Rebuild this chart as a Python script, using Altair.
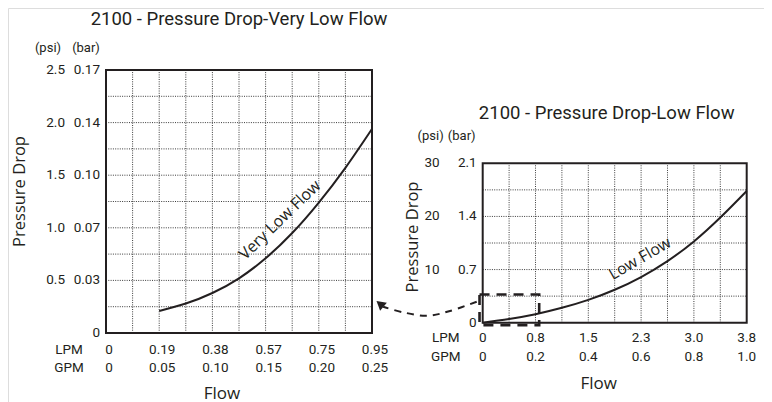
import altair as alt
import pandas as pd

# ---------------- Left panel: Very Low Flow ----------------
L_TITLE = "2100 - Pressure Drop-Very Low Flow"
L_GPM_TICKS = [0, 0.05, 0.10, 0.15, 0.20, 0.25]
L_GPM_LABELS = ["0", "0.05", "0.10", "0.15", "0.20", "0.25"]
L_LPM_LABELS = ["0", "0.19", "0.38", "0.57", "0.75", "0.95"]
L_PSI_TICKS = [0.5, 1.0, 1.5, 2.0, 2.5]
L_PSI_LABELS = ["0.5", "1.0", "1.5", "2.0", "2.5"]
L_BAR_LABELS = ["0.03", "0.07", "0.10", "0.14", "0.17"]
L_GRID_X = [0.025, 0.05, 0.075, 0.10, 0.125, 0.15, 0.175, 0.20, 0.225]
L_GRID_Y = [0.25, 0.5, 0.75, 1.0, 1.25, 1.5, 1.75, 2.0, 2.25]
L_CURVE_GPM = [0.05, 0.075, 0.10, 0.125, 0.15, 0.175, 0.20, 0.225, 0.25]
L_CURVE_PSI = [0.21, 0.28, 0.38, 0.52, 0.71, 0.95, 1.24, 1.57, 1.94]
L_CURVE_LABEL = "Very Low Flow"
L_LABEL_AT = [0.1635, 1.074]

# ---------------- Right panel: Low Flow ----------------
R_TITLE = "2100 - Pressure Drop-Low Flow"
R_GPM_TICKS = [0, 0.2, 0.4, 0.6, 0.8, 1.0]
R_GPM_LABELS = ["0", "0.2", "0.4", "0.6", "0.8", "1.0"]
R_LPM_LABELS = ["0", "0.8", "1.5", "2.3", "3.0", "3.8"]
R_PSI_TICKS = [10, 20, 30]
R_PSI_LABELS = ["10", "20", "30"]
R_BAR_LABELS = ["0.7", "1.4", "2.1"]
R_GRID_X = [0.1, 0.2, 0.3, 0.4, 0.5, 0.6, 0.7, 0.8, 0.9]
R_GRID_Y = [5, 10, 15, 20, 25]
R_CURVE_GPM = [0, 0.1, 0.2, 0.3, 0.4, 0.5, 0.6, 0.7, 0.8, 0.9, 1.0]
R_CURVE_PSI = [0, 0.7, 1.6, 2.8, 4.3, 6.2, 8.6, 11.6, 15.3, 19.8, 24.8]
R_CURVE_LABEL = "Low Flow"
R_LABEL_AT = [0.596, 12.06]

# zoom box and dashed arrow (in right-panel data units)
BOX_GPM = [-0.012, 0.214]
BOX_PSI = [-0.45, 5.3]
ARROW_GPM = [-0.0227, -0.124, -0.212, -0.301, -0.377]
ARROW_PSI = [3.95, 2.2, 1.3, 1.95, 3.0]
ARROW_HEAD = [-0.389, 3.54]

INK = "#231f20"
GRID = "#3a3a3a"
NUM_FONT = "Roboto"
TXT_FONT = "Open Sans"


def panel(xdom, xrng, ydom, yrng, gpm_ticks, gpm_labels, lpm_labels,
          psi_ticks, psi_labels, bar_labels, grid_x, grid_y,
          cx, cy, clabel, clabel_at, clabel_angle, title, st):
    sx = alt.Scale(domain=xdom, range=xrng, nice=False, zero=False)
    sy = alt.Scale(domain=ydom, range=yrng, nice=False, zero=False)

    def X(f):
        return alt.X(f, type="quantitative", scale=sx, axis=None)

    def Y(f):
        return alt.Y(f, type="quantitative", scale=sy, axis=None)

    layers = []
    gv = pd.DataFrame({"x": grid_x, "y": ydom[0], "y2": ydom[1]})
    layers.append(alt.Chart(gv).mark_rule(color=GRID, strokeWidth=1, strokeDash=[1, 1.3])
                  .encode(x=X("x"), y=Y("y"), y2="y2"))
    gh = pd.DataFrame({"y": grid_y, "x": xdom[0], "x2": xdom[1]})
    layers.append(alt.Chart(gh).mark_rule(color=GRID, strokeWidth=1, strokeDash=[1, 1.3])
                  .encode(y=Y("y"), x=X("x"), x2="x2"))
    fr = pd.DataFrame({"x": [xdom[0]], "x2": [xdom[1]], "y": [ydom[0]], "y2": [ydom[1]]})
    layers.append(alt.Chart(fr).mark_rect(fillOpacity=0, stroke=INK, strokeWidth=2)
                  .encode(x=X("x"), x2="x2", y=Y("y"), y2="y2"))
    cv = pd.DataFrame({"x": cx, "y": cy})
    layers.append(alt.Chart(cv).mark_line(color=INK, strokeWidth=2, interpolate="natural")
                  .encode(x=X("x"), y=Y("y")))
    lab = pd.DataFrame({"x": [clabel_at[0]], "y": [clabel_at[1]], "t": [clabel]})
    layers.append(alt.Chart(lab).mark_text(font=TXT_FONT, fontSize=16, color=INK, angle=clabel_angle,
                                           align="center", baseline="middle")
                  .encode(x=X("x"), y=Y("y"), text="t:N"))

    xl = pd.DataFrame({"x": gpm_ticks, "y": ydom[0], "lpm": lpm_labels, "gpm": gpm_labels})
    tk = dict(font=NUM_FONT, fontSize=13.5, color=INK, baseline="middle")
    layers.append(alt.Chart(xl).mark_text(align="center", dx=st["xdx"], dy=st["row1"], **tk)
                  .encode(x=X("x"), y=Y("y"), text="lpm:N"))
    layers.append(alt.Chart(xl).mark_text(align="center", dx=st["xdx"], dy=st["row2"], **tk)
                  .encode(x=X("x"), y=Y("y"), text="gpm:N"))
    rows = pd.DataFrame({"x": [xdom[0]], "y": [ydom[0]], "a": ["LPM"], "b": ["GPM"]})
    layers.append(alt.Chart(rows).mark_text(align="center", dx=-37, dy=st["row1"], **tk)
                  .encode(x=X("x"), y=Y("y"), text="a:N"))
    layers.append(alt.Chart(rows).mark_text(align="center", dx=-37, dy=st["row2"], **tk)
                  .encode(x=X("x"), y=Y("y"), text="b:N"))

    yl = pd.DataFrame({"x": xdom[0], "y": psi_ticks, "psi": psi_labels, "bar": bar_labels})
    layers.append(alt.Chart(yl).mark_text(align="right", dx=st["psidx"], **tk)
                  .encode(x=X("x"), y=Y("y"), text="psi:N"))
    layers.append(alt.Chart(yl).mark_text(align="right", dx=-6, **tk)
                  .encode(x=X("x"), y=Y("y"), text="bar:N"))
    zero = pd.DataFrame({"x": [xdom[0]], "y": [ydom[0]], "t": ["0"]})
    layers.append(alt.Chart(zero).mark_text(align="right", dx=-6, **tk)
                  .encode(x=X("x"), y=Y("y"), text="t:N"))

    hd = pd.DataFrame({"x": [xdom[0]], "y": [ydom[1]], "a": ["(psi)"], "b": ["(bar)"]})
    hk = dict(font=NUM_FONT, fontSize=13, color=INK, baseline="middle", align="center")
    layers.append(alt.Chart(hd).mark_text(dx=st["hpdx"], dy=st["hdy"], **hk)
                  .encode(x=X("x"), y=Y("y"), text="a:N"))
    layers.append(alt.Chart(hd).mark_text(dx=st["hbdx"], dy=st["hdy"], **hk)
                  .encode(x=X("x"), y=Y("y"), text="b:N"))

    xm = (xdom[0] + xdom[1]) / 2
    ym = (ydom[0] + ydom[1]) / 2
    tt = pd.DataFrame({"x": [xm], "y": [ydom[1]], "t": [title]})
    layers.append(alt.Chart(tt).mark_text(font=NUM_FONT, fontSize=18.5, color=INK, align="center",
                                          baseline="alphabetic", dx=st["tdx"], dy=st["tdy"])
                  .encode(x=X("x"), y=Y("y"), text="t:N"))
    ft = pd.DataFrame({"x": [xm], "y": [ydom[0]], "t": ["Flow"]})
    layers.append(alt.Chart(ft).mark_text(font=TXT_FONT, fontSize=17, color=INK, align="center",
                                          baseline="alphabetic", dx=st["fdx"], dy=st["fdy"])
                  .encode(x=X("x"), y=Y("y"), text="t:N"))
    yt = pd.DataFrame({"x": [xdom[0]], "y": [ym], "t": ["Pressure Drop"]})
    layers.append(alt.Chart(yt).mark_text(font=TXT_FONT, fontSize=16.5, color=INK, align="center",
                                          baseline="middle", angle=270, dx=st["ytup"], dy=st["ytx"])
                  .encode(x=X("x"), y=Y("y"), text="t:N"))
    return layers, X, Y


left_layers, LX, LY = panel(
    [0, 0.25], [98, 364], [0, 2.5], [325, 62],
    L_GPM_TICKS, L_GPM_LABELS, L_LPM_LABELS, L_PSI_TICKS, L_PSI_LABELS, L_BAR_LABELS,
    L_GRID_X, L_GRID_Y, L_CURVE_GPM, L_CURVE_PSI, L_CURVE_LABEL, L_LABEL_AT, 316, L_TITLE,
    dict(xdx=3, row1=17, row2=35, psidx=-41, hpdx=-58, hbdx=-20, hdy=-22,
         tdx=0, tdy=-45.5, fdx=-17, fdy=65.5, ytup=10, ytx=-86))

right_layers, RX, RY = panel(
    [0, 1.0], [474.7, 738.7], [0, 30], [314.7, 155.3],
    R_GPM_TICKS, R_GPM_LABELS, R_LPM_LABELS, R_PSI_TICKS, R_PSI_LABELS, R_BAR_LABELS,
    R_GRID_X, R_GRID_Y, R_CURVE_GPM, R_CURVE_PSI, R_CURVE_LABEL, R_LABEL_AT, 330, R_TITLE,
    dict(xdx=0, row1=15, row2=34, psidx=-43, hpdx=-52, hbdx=-21, hdy=-27,
         tdx=-8, tdy=-44, fdx=-16, fdy=66.5, ytup=6, ytx=-70))

box = pd.DataFrame({"x": [BOX_GPM[0]], "x2": [BOX_GPM[1]], "y": [BOX_PSI[0]], "y2": [BOX_PSI[1]]})
right_layers.append(alt.Chart(box).mark_rect(fillOpacity=0, stroke=INK, strokeWidth=2.6,
                                             strokeDash=[10, 7])
                    .encode(x=RX("x"), x2="x2", y=RY("y"), y2="y2"))
arrow = pd.DataFrame({"x": ARROW_GPM, "y": ARROW_PSI, "o": list(range(len(ARROW_GPM)))})
right_layers.append(alt.Chart(arrow).mark_line(color=INK, strokeWidth=2, strokeDash=[7, 6],
                                               interpolate="cardinal")
                    .encode(x=RX("x"), y=RY("y"), order="o:Q"))
head = pd.DataFrame({"x": [ARROW_HEAD[0]], "y": [ARROW_HEAD[1]]})
right_layers.append(alt.Chart(head).mark_point(shape="triangle-up", filled=True, size=110,
                                               angle=310, color=INK, opacity=1)
                    .encode(x=RX("x"), y=RY("y")))

left = alt.layer(*left_layers)
right = alt.layer(*right_layers)

chart = alt.layer(left, right).resolve_scale(x="independent", y="independent").properties(
    width=756, height=402, padding=0, autosize=alt.AutoSizeParams(type="none")
).configure_view(stroke=None).configure(background="white")

chart.save("out.html", embed_options={"renderer": "svg", "actions": False})
